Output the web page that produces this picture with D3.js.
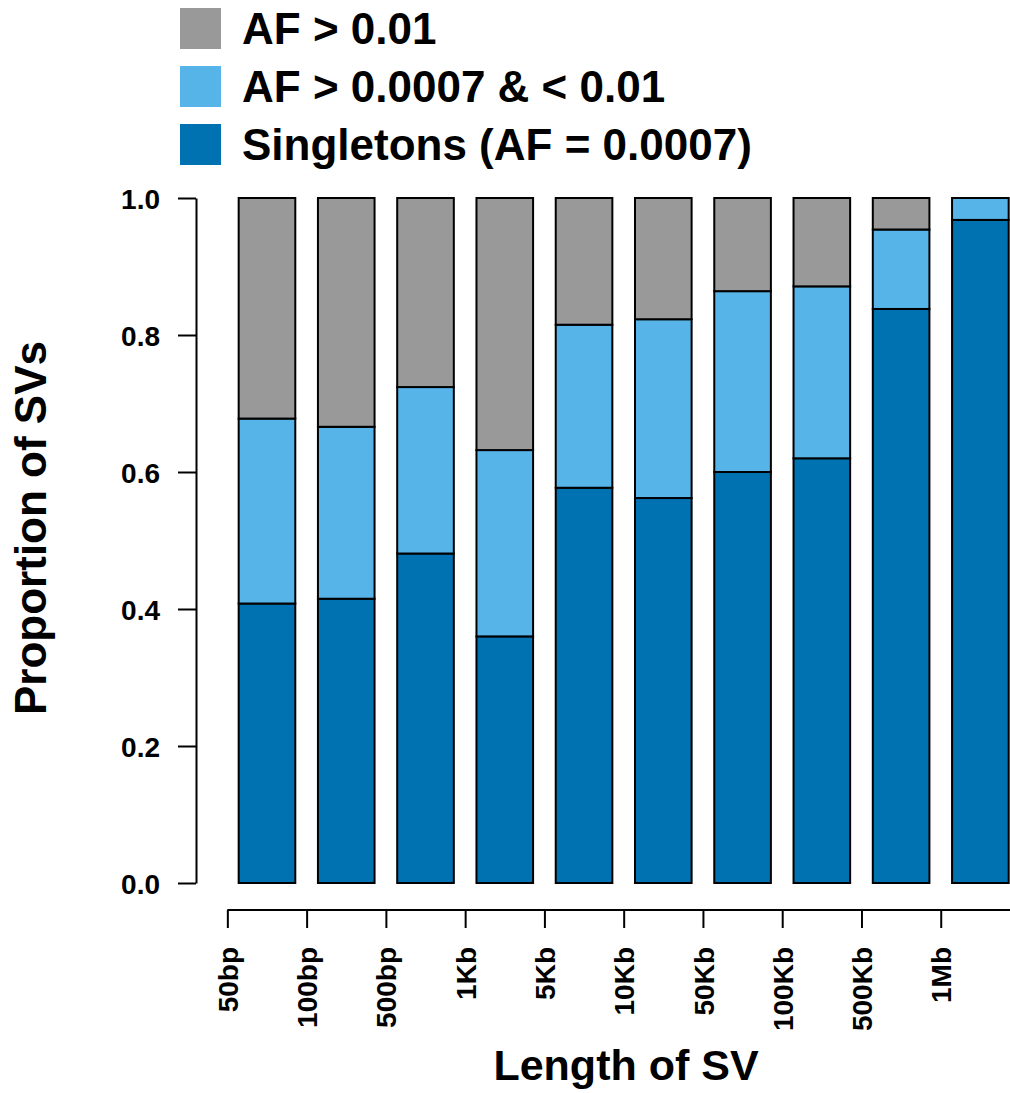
<!DOCTYPE html>
<html>
<head>
<meta charset="utf-8">
<script src="https://cdn.jsdelivr.net/npm/d3@7"></script>
<style>
  html, body { margin: 0; padding: 0; background: #fff; }
  svg { display: block; font-family: "Liberation Sans", Arial, Helvetica, sans-serif; font-weight: bold; }
</style>
</head>
<body>
<svg id="chart" width="1010" height="1093"></svg>
<script>
// ---- Data ----
const categories = ["50bp","100bp","500bp","1Kb","5Kb","10Kb","50Kb","100Kb","500Kb","1Mb"];
const singletons = [0.408, 0.415, 0.481, 0.360, 0.577, 0.562, 0.600, 0.620, 0.838, 0.968];
const rare       = [0.270, 0.251, 0.243, 0.272, 0.238, 0.261, 0.264, 0.251, 0.116, 0.032];
const common     = [0.322, 0.334, 0.276, 0.368, 0.185, 0.177, 0.136, 0.129, 0.046, 0.000];
const seriesKeys   = ["singletons", "rare", "common"];
const seriesLabels = ["Singletons (AF = 0.0007)", "AF > 0.0007 & < 0.01", "AF > 0.01"];
const seriesColors = ["#0072B2", "#56B4E9", "#999999"];
const yTicks = [0, 0.2, 0.4, 0.6, 0.8, 1.0];
const legendOrder = ["common", "rare", "singletons"];

// ---- Build table ----
const table = categories.map((c, i) => ({
  cat: c, singletons: singletons[i], rare: rare[i], common: common[i]
}));

const svg = d3.select("#chart");

// ---- Scales ----
const x = d3.scaleBand()
  .domain(categories)
  .range([227.35, 1020])
  .paddingInner(0.2857)
  .paddingOuter(0.14285);
const xTick = d3.scalePoint()
  .domain(categories)
  .range([x.range()[0], x.range()[0] + (categories.length - 1) * x.step()]);
const y = d3.scaleLinear().domain([0, 1]).range([883, 198]);
const color = d3.scaleOrdinal().domain(seriesKeys).range(seriesColors);

// ---- Bars ----
const stacked = d3.stack().keys(seriesKeys)(table);
svg.append("g")
  .selectAll("g")
  .data(stacked)
  .join("g")
    .attr("fill", d => color(d.key))
  .selectAll("rect")
  .data(d => d.filter(p => p[1] - p[0] > 0))
  .join("rect")
    .attr("x", d => x(d.data.cat))
    .attr("y", d => y(d[1]))
    .attr("width", x.bandwidth())
    .attr("height", d => y(d[0]) - y(d[1]))
    .attr("stroke", "#000")
    .attr("stroke-width", 2);

// ---- Y axis ----
const yAxis = svg.append("g")
  .attr("transform", "translate(196,0)")
  .call(d3.axisLeft(y).tickValues(yTicks).tickFormat(d3.format(".1f"))
        .tickSize(18).tickSizeOuter(0).tickPadding(18));
yAxis.selectAll("path, line").attr("stroke", "#000").attr("stroke-width", 2);
yAxis.selectAll("text")
  .attr("fill", "#000")
  .style("font-size", "28px")
  .style("font-weight", "bold")
  .style("font-family", "'Liberation Sans', Arial, Helvetica, sans-serif")
  .attr("dy", "0.38em");

// ---- X axis ----
const xAxis = svg.append("g")
  .attr("transform", "translate(0,910)")
  .call(d3.axisBottom(xTick).tickSize(18).tickSizeOuter(0));
xAxis.select(".domain").attr("d", `M${x.range()[0]},0H${x.range()[1]}`);
xAxis.selectAll("path, line").attr("stroke", "#000").attr("stroke-width", 2);
xAxis.selectAll("text")
  .attr("fill", "#000")
  .style("font-size", "28px")
  .style("font-weight", "bold")
  .style("font-family", "'Liberation Sans', Arial, Helvetica, sans-serif")
  .attr("transform", "rotate(-90)")
  .attr("text-anchor", "end")
  .attr("x", -37)
  .attr("y", 0)
  .attr("dy", "0.36em");

// ---- Axis titles ----
svg.append("text")
  .attr("x", 626).attr("y", 1080)
  .attr("text-anchor", "middle")
  .style("font-size", "43px")
  .text("Length of SV");

svg.append("text")
  .attr("transform", "translate(46,528) rotate(-90)")
  .attr("text-anchor", "middle")
  .style("font-size", "44px")
  .text("Proportion of SVs");

// ---- Legend ----
const legend = svg.append("g");
legendOrder.forEach((k, i) => {
  const idx = seriesKeys.indexOf(k);
  legend.append("rect")
    .attr("x", 180).attr("y", 8 + 58 * i)
    .attr("width", 41).attr("height", 41)
    .attr("fill", color(k));
  legend.append("text")
    .attr("x", 242).attr("y", 44 + 58 * i)
    .style("font-size", "44px")
    .text(seriesLabels[idx]);
});
</script>
</body>
</html>
